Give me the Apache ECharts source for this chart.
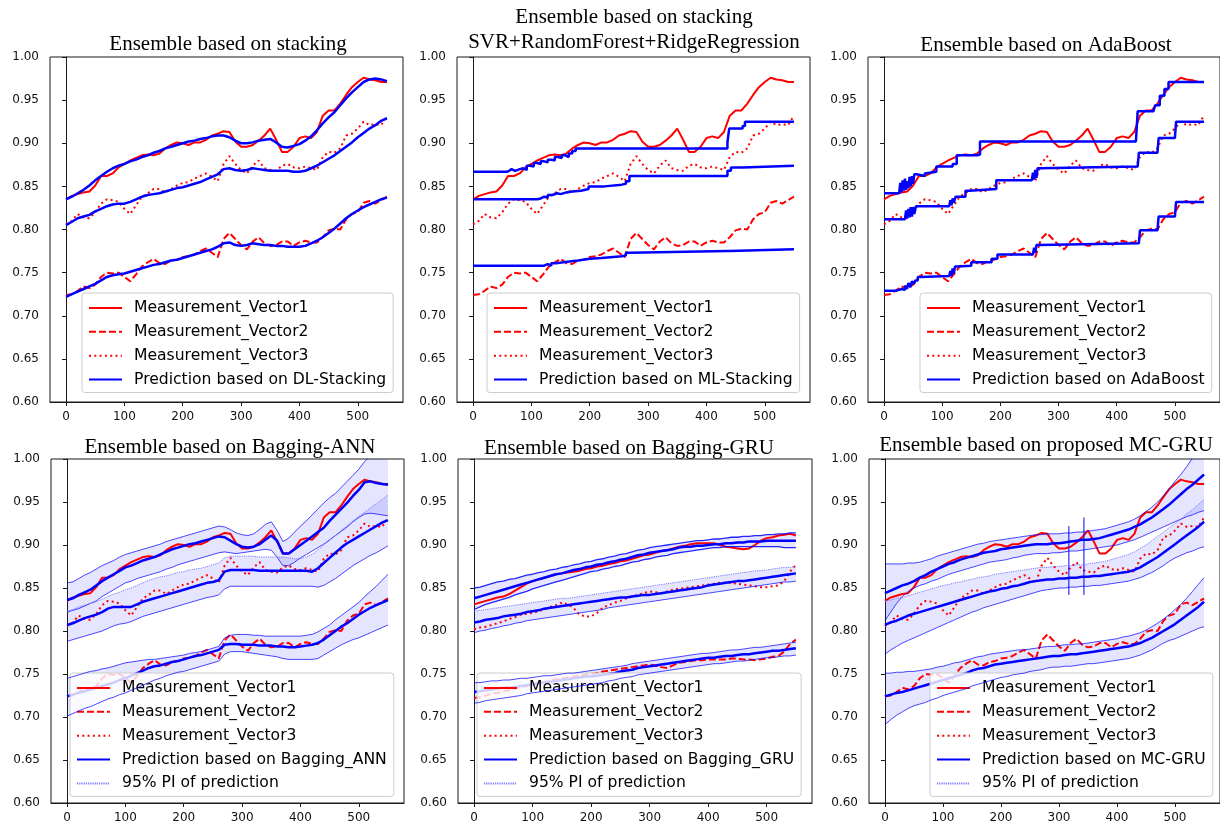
<!DOCTYPE html>
<html>
<head>
<meta charset="utf-8">
<script src="https://cdn.jsdelivr.net/npm/echarts@6/dist/echarts.min.js"></script>
<style>
  html, body { margin: 0; padding: 0; background: #ffffff; }
  #chart { width: 1220px; height: 828px; }
</style>
</head>
<body>
<div id="chart"></div>
<script>
// ---------------------------------------------------------------------------
// Sample positions (time index) shared by the sampled series
// ---------------------------------------------------------------------------
const xs = [0,10,20,30,40,50,60,70,80,90,
  100,110,120,130,140,150,160,170,180,190,
  200,210,220,230,240,250,260,270,280,290,
  300,310,320,330,340,350,360,370,380,390,
  400,410,420,430,440,450,460,470,480,490,
  500,510,520,530,540,550];
const xTicks = [0, 100, 200, 300, 400, 500];

// ---------------------------------------------------------------------------
// Measurements (panels 1-4 and 6)
// ---------------------------------------------------------------------------
const measV1 = [0.835,0.839,0.841,0.843,0.844,0.851,0.862,0.862,0.865,0.872,
  0.876,0.880,0.883,0.886,0.887,0.886,0.888,0.894,0.898,0.901,
  0.900,0.898,0.901,0.901,0.904,0.909,0.911,0.914,0.913,0.902,
  0.896,0.896,0.898,0.903,0.909,0.917,0.904,0.890,0.890,0.896,
  0.906,0.908,0.906,0.913,0.932,0.938,0.938,0.946,0.956,0.965,
  0.971,0.976,0.974,0.973,0.971,0.971];
const measV2 = [0.724,0.725,0.729,0.734,0.732,0.736,0.745,0.750,0.749,0.750,
  0.745,0.740,0.748,0.757,0.762,0.766,0.761,0.760,0.764,0.765,
  0.768,0.769,0.771,0.775,0.778,0.773,0.768,0.789,0.796,0.789,
  0.782,0.777,0.786,0.791,0.784,0.781,0.782,0.786,0.786,0.781,
  0.785,0.787,0.785,0.785,0.791,0.799,0.801,0.800,0.812,0.818,
  0.820,0.831,0.833,0.830,0.834,0.838];
const measV3 = [0.806,0.810,0.818,0.814,0.813,0.820,0.830,0.835,0.834,0.832,
  0.824,0.818,0.828,0.838,0.842,0.847,0.847,0.843,0.847,0.851,
  0.854,0.855,0.859,0.862,0.865,0.861,0.856,0.876,0.885,0.876,
  0.869,0.865,0.874,0.880,0.871,0.869,0.868,0.874,0.876,0.872,
  0.871,0.873,0.871,0.869,0.884,0.890,0.889,0.894,0.909,0.911,
  0.917,0.925,0.921,0.922,0.921,0.932];

// ---------------------------------------------------------------------------
// Panel 1: DL stacking predictions
// ---------------------------------------------------------------------------
const dlV1 = [0.835,0.838,0.842,0.846,0.851,0.857,0.862,0.867,0.871,0.874,
  0.876,0.879,0.881,0.884,0.886,0.889,0.891,0.894,0.896,0.898,
  0.900,0.902,0.903,0.905,0.906,0.908,0.909,0.909,0.907,0.903,
  0.900,0.900,0.901,0.903,0.904,0.905,0.901,0.896,0.895,0.897,
  0.899,0.903,0.908,0.915,0.923,0.930,0.936,0.944,0.952,0.959,
  0.965,0.971,0.974,0.975,0.974,0.972];
const dlV2 = [0.722,0.725,0.728,0.731,0.734,0.737,0.741,0.745,0.747,0.748,
  0.749,0.751,0.753,0.755,0.757,0.759,0.760,0.762,0.764,0.765,
  0.767,0.769,0.771,0.773,0.775,0.777,0.780,0.784,0.785,0.782,
  0.781,0.782,0.784,0.783,0.782,0.782,0.781,0.781,0.780,0.780,
  0.780,0.781,0.784,0.787,0.791,0.796,0.801,0.807,0.813,0.818,
  0.822,0.826,0.829,0.832,0.835,0.837];
const dlV3 = [0.805,0.809,0.813,0.815,0.817,0.821,0.824,0.827,0.829,0.830,
  0.830,0.832,0.835,0.838,0.840,0.841,0.842,0.844,0.846,0.848,
  0.849,0.851,0.853,0.855,0.858,0.861,0.864,0.870,0.871,0.869,
  0.868,0.869,0.871,0.870,0.869,0.868,0.868,0.868,0.868,0.867,
  0.867,0.868,0.871,0.874,0.878,0.882,0.886,0.891,0.896,0.901,
  0.907,0.912,0.917,0.921,0.926,0.929];

// ---------------------------------------------------------------------------
// Panel 2: ML stacking predictions, [x, level] held until the next x
// ---------------------------------------------------------------------------
const mlV1 = [[0,0.867],[58,0.868],[62,0.870],[66,0.868],[72,0.870],[80,0.871],[86,0.869],
  [92,0.874],[98,0.873],[104,0.877],[110,0.876],[116,0.879],[122,0.878],[128,0.881],[134,0.880],
  [140,0.884],[146,0.883],[152,0.886],[158,0.884],[164,0.888],[170,0.891],[176,0.894],
  [432,0.894],[436,0.901],[439,0.917],[462,0.920],[466,0.925],[550,0.925]];
const mlV2 = [[0,0.758],[118,0.758],[122,0.760],[128,0.758],[134,0.761],[142,0.762],[155,0.763],
  [165,0.764],[180,0.766],[200,0.767],[220,0.769],[255,0.770],[262,0.773],[270,0.775],
  [436,0.775],[440,0.777],[550,0.777]];
const mlV3 = [[0,0.835],[110,0.836],[116,0.838],[122,0.837],[128,0.840],[136,0.842],[144,0.841],
  [150,0.843],[160,0.844],[170,0.845],[185,0.847],[198,0.850],[225,0.852],[255,0.853],
  [262,0.856],[268,0.862],[432,0.862],[436,0.868],[442,0.872],[462,0.874],[550,0.874]];

// ---------------------------------------------------------------------------
// Panel 3: AdaBoost predictions, [x, level] held until the next x
// ---------------------------------------------------------------------------
const adaV1 = [[0,0.842],[26,0.842],[28,0.854],[30,0.843],[32,0.857],[34,0.845],[36,0.859],
  [38,0.846],[40,0.856],[42,0.848],[44,0.861],[46,0.850],[48,0.862],[50,0.853],[52,0.864],
  [56,0.862],[70,0.865],[72,0.867],[90,0.873],[118,0.876],[125,0.886],[160,0.887],[165,0.902],
  [433,0.902],[436,0.937],[463,0.937],[466,0.944],[474,0.955],[482,0.963],[489,0.971],[550,0.971]];
const adaV2 = [[0,0.729],[20,0.730],[26,0.731],[30,0.733],[33,0.730],[36,0.735],[39,0.731],
  [42,0.738],[45,0.733],[48,0.740],[51,0.737],[54,0.741],[58,0.745],[62,0.746],[112,0.746],
  [114,0.752],[116,0.746],[118,0.755],[120,0.749],[122,0.757],[126,0.758],[150,0.762],
  [185,0.766],[195,0.771],[256,0.771],[258,0.779],[260,0.773],[262,0.782],[266,0.784],
  [438,0.784],[440,0.799],[470,0.799],[472,0.815],[500,0.815],[502,0.832],[550,0.832]];
const adaV3 = [[0,0.812],[36,0.812],[38,0.822],[40,0.813],[42,0.824],[44,0.814],[46,0.826],
  [48,0.815],[50,0.826],[52,0.818],[55,0.827],[112,0.827],[114,0.834],[116,0.828],[118,0.836],
  [120,0.831],[123,0.838],[140,0.845],[147,0.847],[193,0.857],[254,0.857],[256,0.866],
  [258,0.858],[260,0.869],[262,0.860],[264,0.871],[268,0.873],[436,0.873],[438,0.889],
  [470,0.889],[472,0.906],[500,0.906],[502,0.925],[550,0.925]];

// ---------------------------------------------------------------------------
// Panel 4: Bagging-ANN predictions and 95% PI bounds
// ---------------------------------------------------------------------------
const annV1 = [0.836,0.838,0.842,0.845,0.848,0.853,0.858,0.862,0.866,0.870,
  0.874,0.876,0.879,0.882,0.884,0.886,0.889,0.892,0.895,0.897,
  0.899,0.901,0.902,0.904,0.906,0.908,0.910,0.909,0.905,0.901,
  0.898,0.897,0.898,0.901,0.906,0.911,0.905,0.890,0.890,0.895,
  0.900,0.905,0.910,0.915,0.920,0.928,0.935,0.942,0.949,0.957,
  0.964,0.973,0.974,0.972,0.971,0.970];
const annV1Hi = [0.856,0.857,0.861,0.865,0.868,0.872,0.876,0.879,0.882,0.886,
  0.889,0.891,0.893,0.895,0.897,0.899,0.901,0.904,0.906,0.908,
  0.910,0.912,0.914,0.916,0.918,0.920,0.922,0.921,0.918,0.914,
  0.912,0.911,0.913,0.918,0.924,0.927,0.917,0.904,0.908,0.915,
  0.922,0.928,0.935,0.942,0.949,0.955,0.960,0.967,0.974,0.981,
  0.988,0.997,1.004,1.008,1.012,1.015];
const annV1Lo = [0.822,0.824,0.826,0.829,0.832,0.835,0.840,0.844,0.848,0.852,
  0.856,0.858,0.861,0.863,0.865,0.867,0.869,0.872,0.874,0.877,
  0.879,0.881,0.883,0.885,0.887,0.889,0.891,0.892,0.891,0.890,
  0.891,0.892,0.893,0.894,0.895,0.894,0.886,0.876,0.876,0.880,
  0.885,0.889,0.893,0.897,0.901,0.906,0.911,0.916,0.921,0.927,
  0.932,0.936,0.937,0.936,0.935,0.934];
const annV2 = [0.724,0.726,0.728,0.730,0.732,0.734,0.736,0.738,0.740,0.743,
  0.745,0.748,0.751,0.754,0.757,0.759,0.760,0.762,0.764,0.765,
  0.767,0.769,0.771,0.772,0.774,0.776,0.778,0.784,0.785,0.785,
  0.784,0.784,0.784,0.783,0.783,0.783,0.782,0.782,0.781,0.781,
  0.782,0.783,0.784,0.786,0.790,0.795,0.800,0.805,0.809,0.814,
  0.819,0.823,0.827,0.830,0.833,0.836];
const annV2Hi = [0.745,0.747,0.749,0.751,0.753,0.754,0.756,0.757,0.759,0.761,
  0.763,0.764,0.765,0.766,0.767,0.767,0.768,0.769,0.770,0.771,
  0.772,0.774,0.775,0.776,0.778,0.780,0.782,0.792,0.795,0.796,
  0.796,0.796,0.795,0.795,0.794,0.794,0.794,0.794,0.794,0.794,
  0.794,0.795,0.796,0.799,0.803,0.807,0.813,0.818,0.823,0.828,
  0.833,0.840,0.846,0.852,0.859,0.866];
const annV2Lo = [0.701,0.704,0.707,0.710,0.712,0.715,0.718,0.721,0.723,0.726,
  0.728,0.731,0.734,0.737,0.740,0.743,0.745,0.748,0.750,0.752,
  0.753,0.755,0.757,0.759,0.761,0.763,0.765,0.773,0.776,0.776,
  0.776,0.775,0.774,0.773,0.772,0.771,0.770,0.768,0.767,0.767,
  0.767,0.767,0.767,0.768,0.772,0.776,0.780,0.784,0.787,0.790,
  0.792,0.795,0.798,0.801,0.804,0.807];
const annV3 = [0.807,0.809,0.812,0.815,0.817,0.819,0.822,0.826,0.828,0.828,
  0.828,0.828,0.831,0.834,0.836,0.838,0.840,0.842,0.844,0.846,
  0.848,0.850,0.852,0.854,0.856,0.857,0.859,0.869,0.871,0.871,
  0.871,0.871,0.871,0.870,0.870,0.870,0.870,0.870,0.870,0.870,
  0.870,0.870,0.869,0.873,0.879,0.885,0.891,0.897,0.902,0.906,
  0.910,0.914,0.918,0.922,0.926,0.929];
const annV3Hi = [0.823,0.825,0.828,0.830,0.832,0.834,0.837,0.840,0.843,0.845,
  0.848,0.850,0.853,0.856,0.859,0.861,0.863,0.864,0.866,0.868,
  0.869,0.871,0.872,0.873,0.875,0.877,0.879,0.885,0.887,0.887,
  0.887,0.887,0.887,0.886,0.886,0.886,0.886,0.886,0.885,0.884,
  0.884,0.886,0.889,0.894,0.900,0.905,0.911,0.917,0.922,0.928,
  0.933,0.938,0.943,0.948,0.953,0.958];
const annV3Lo = [0.788,0.790,0.792,0.794,0.796,0.798,0.800,0.803,0.806,0.808,
  0.809,0.811,0.814,0.817,0.819,0.821,0.823,0.825,0.827,0.829,
  0.831,0.833,0.835,0.837,0.839,0.840,0.842,0.849,0.852,0.852,
  0.852,0.852,0.852,0.852,0.852,0.852,0.852,0.852,0.852,0.852,
  0.852,0.852,0.852,0.851,0.853,0.857,0.861,0.866,0.871,0.876,
  0.880,0.884,0.888,0.891,0.895,0.899];

// ---------------------------------------------------------------------------
// Panel 5: measurements, Bagging-GRU predictions and 95% PI bounds
// ---------------------------------------------------------------------------
const gruMeasV1 = [0.831,0.833,0.835,0.837,0.839,0.840,0.843,0.847,0.851,0.855,
  0.858,0.860,0.862,0.864,0.866,0.867,0.868,0.869,0.870,0.872,
  0.873,0.875,0.876,0.878,0.879,0.881,0.882,0.884,0.886,0.888,
  0.889,0.891,0.893,0.894,0.896,0.898,0.899,0.901,0.902,0.902,
  0.902,0.902,0.900,0.898,0.897,0.896,0.895,0.896,0.900,0.905,
  0.908,0.909,0.911,0.912,0.913,0.911];
const gruMeasV2 = [0.722,0.723,0.725,0.727,0.728,0.730,0.731,0.733,0.735,0.736,
  0.738,0.739,0.741,0.742,0.744,0.745,0.746,0.747,0.748,0.749,
  0.750,0.751,0.753,0.754,0.755,0.756,0.757,0.758,0.759,0.760,
  0.761,0.760,0.758,0.757,0.760,0.763,0.764,0.765,0.766,0.766,
  0.767,0.767,0.767,0.767,0.768,0.768,0.767,0.767,0.766,0.767,
  0.768,0.770,0.771,0.776,0.785,0.790];
const gruMeasV3 = [0.802,0.804,0.805,0.807,0.809,0.811,0.814,0.816,0.819,0.820,
  0.821,0.823,0.825,0.828,0.830,0.833,0.831,0.827,0.819,0.817,
  0.817,0.821,0.827,0.830,0.833,0.835,0.838,0.840,0.842,0.844,
  0.846,0.845,0.844,0.846,0.848,0.849,0.850,0.851,0.852,0.853,
  0.854,0.855,0.856,0.856,0.856,0.855,0.854,0.853,0.852,0.851,
  0.851,0.852,0.853,0.858,0.869,0.877];
const gruV1 = [0.838,0.840,0.842,0.844,0.846,0.848,0.850,0.852,0.854,0.856,
  0.858,0.860,0.862,0.864,0.866,0.867,0.869,0.871,0.872,0.874,
  0.875,0.877,0.878,0.880,0.881,0.883,0.884,0.886,0.888,0.889,
  0.891,0.892,0.893,0.894,0.895,0.897,0.898,0.898,0.899,0.899,
  0.900,0.901,0.901,0.902,0.902,0.903,0.903,0.904,0.904,0.904,
  0.905,0.905,0.905,0.905,0.905,0.905];
const gruV1Hi = [0.850,0.851,0.853,0.855,0.857,0.858,0.860,0.861,0.863,0.865,
  0.866,0.868,0.869,0.871,0.872,0.874,0.875,0.877,0.878,0.880,
  0.881,0.883,0.884,0.886,0.887,0.889,0.890,0.892,0.894,0.895,
  0.897,0.898,0.899,0.900,0.901,0.902,0.903,0.904,0.905,0.905,
  0.906,0.907,0.907,0.908,0.909,0.909,0.910,0.910,0.911,0.911,
  0.912,0.912,0.913,0.913,0.914,0.914];
const gruV1Lo = [0.825,0.828,0.831,0.833,0.835,0.837,0.839,0.842,0.844,0.846,
  0.849,0.851,0.853,0.855,0.857,0.859,0.861,0.863,0.865,0.867,
  0.869,0.870,0.872,0.873,0.875,0.876,0.878,0.880,0.881,0.883,
  0.884,0.886,0.887,0.888,0.890,0.891,0.892,0.893,0.894,0.895,
  0.896,0.897,0.897,0.898,0.898,0.898,0.898,0.898,0.898,0.898,
  0.898,0.898,0.898,0.897,0.897,0.897];
const gruV2 = [0.729,0.730,0.731,0.732,0.733,0.734,0.734,0.735,0.736,0.737,
  0.738,0.739,0.740,0.741,0.742,0.743,0.744,0.745,0.746,0.747,
  0.747,0.748,0.749,0.750,0.751,0.753,0.754,0.755,0.757,0.758,
  0.759,0.760,0.761,0.762,0.763,0.764,0.765,0.766,0.767,0.768,
  0.769,0.769,0.770,0.771,0.771,0.772,0.773,0.773,0.774,0.775,
  0.776,0.777,0.777,0.778,0.779,0.780];
const gruV2Hi = [0.740,0.740,0.741,0.742,0.742,0.743,0.743,0.744,0.745,0.745,
  0.746,0.747,0.748,0.748,0.749,0.750,0.751,0.751,0.752,0.753,
  0.754,0.755,0.756,0.757,0.758,0.759,0.760,0.762,0.763,0.764,
  0.765,0.766,0.767,0.768,0.769,0.770,0.771,0.772,0.773,0.774,
  0.774,0.775,0.776,0.777,0.778,0.778,0.779,0.780,0.781,0.781,
  0.782,0.783,0.784,0.785,0.786,0.787];
const gruV2Lo = [0.716,0.717,0.719,0.720,0.721,0.722,0.723,0.724,0.725,0.727,
  0.728,0.729,0.730,0.731,0.732,0.733,0.734,0.735,0.736,0.737,
  0.738,0.739,0.740,0.742,0.743,0.745,0.746,0.747,0.749,0.750,
  0.751,0.752,0.753,0.754,0.755,0.756,0.757,0.758,0.759,0.760,
  0.761,0.762,0.762,0.763,0.764,0.765,0.765,0.766,0.767,0.768,
  0.769,0.769,0.770,0.771,0.771,0.772];
const gruV3 = [0.810,0.811,0.813,0.814,0.815,0.817,0.818,0.819,0.820,0.822,
  0.823,0.824,0.826,0.827,0.828,0.829,0.830,0.831,0.832,0.833,
  0.834,0.835,0.836,0.837,0.838,0.839,0.839,0.840,0.841,0.842,
  0.842,0.843,0.844,0.845,0.846,0.847,0.848,0.849,0.850,0.851,
  0.853,0.854,0.855,0.856,0.857,0.858,0.858,0.859,0.860,0.861,
  0.862,0.863,0.864,0.865,0.866,0.867];
const gruV3Hi = [0.823,0.824,0.825,0.826,0.827,0.828,0.829,0.830,0.831,0.832,
  0.833,0.834,0.835,0.836,0.837,0.838,0.838,0.839,0.840,0.841,
  0.842,0.843,0.844,0.845,0.846,0.847,0.848,0.849,0.850,0.851,
  0.852,0.853,0.854,0.855,0.856,0.857,0.858,0.859,0.860,0.861,
  0.862,0.863,0.864,0.865,0.866,0.867,0.868,0.869,0.870,0.870,
  0.871,0.872,0.873,0.874,0.874,0.875];
const gruV3Lo = [0.798,0.800,0.801,0.803,0.804,0.806,0.807,0.809,0.810,0.812,
  0.813,0.814,0.815,0.816,0.817,0.818,0.819,0.820,0.821,0.822,
  0.823,0.824,0.825,0.827,0.828,0.829,0.830,0.831,0.832,0.833,
  0.834,0.835,0.836,0.837,0.838,0.839,0.840,0.841,0.842,0.843,
  0.844,0.845,0.846,0.847,0.848,0.849,0.850,0.851,0.852,0.853,
  0.854,0.855,0.856,0.857,0.857,0.858];

// ---------------------------------------------------------------------------
// Panel 6: MC-GRU predictions and 95% PI bounds
// ---------------------------------------------------------------------------
const mcV1 = [0.844,0.847,0.850,0.853,0.855,0.858,0.862,0.865,0.869,0.872,
  0.875,0.878,0.880,0.883,0.885,0.887,0.889,0.891,0.892,0.893,
  0.895,0.896,0.897,0.898,0.899,0.900,0.901,0.901,0.901,0.902,
  0.902,0.903,0.904,0.905,0.906,0.906,0.907,0.908,0.910,0.912,
  0.914,0.916,0.918,0.921,0.924,0.928,0.932,0.937,0.942,0.947,
  0.953,0.959,0.965,0.970,0.976,0.982];
const mcV1Hi = [0.878,0.878,0.878,0.878,0.879,0.879,0.880,0.882,0.884,0.887,
  0.889,0.891,0.893,0.895,0.897,0.899,0.901,0.902,0.904,0.905,
  0.906,0.907,0.908,0.909,0.910,0.911,0.912,0.912,0.913,0.913,
  0.913,0.914,0.914,0.915,0.915,0.916,0.917,0.918,0.919,0.921,
  0.923,0.925,0.927,0.930,0.934,0.939,0.944,0.950,0.957,0.965,
  0.974,0.982,0.991,1.001,1.010,1.020];
const mcV1Lo = [0.812,0.822,0.832,0.840,0.846,0.850,0.853,0.855,0.858,0.860,
  0.863,0.866,0.868,0.870,0.872,0.874,0.876,0.878,0.880,0.881,
  0.882,0.883,0.885,0.886,0.888,0.889,0.890,0.890,0.890,0.891,
  0.891,0.892,0.893,0.893,0.894,0.895,0.896,0.897,0.898,0.899,
  0.900,0.902,0.904,0.906,0.909,0.912,0.915,0.918,0.921,0.924,
  0.927,0.930,0.933,0.935,0.938,0.940];
const mcV2 = [0.724,0.726,0.728,0.729,0.731,0.733,0.735,0.737,0.739,0.741,
  0.743,0.745,0.747,0.749,0.751,0.754,0.756,0.757,0.759,0.761,
  0.762,0.763,0.764,0.765,0.766,0.767,0.768,0.769,0.770,0.771,
  0.771,0.772,0.773,0.773,0.774,0.775,0.776,0.777,0.778,0.779,
  0.780,0.781,0.782,0.784,0.786,0.789,0.792,0.796,0.800,0.804,
  0.808,0.813,0.818,0.823,0.828,0.834];
const mcV2Hi = [0.751,0.751,0.752,0.752,0.753,0.753,0.754,0.755,0.756,0.758,
  0.759,0.761,0.763,0.764,0.766,0.768,0.770,0.771,0.773,0.774,
  0.775,0.776,0.777,0.778,0.778,0.779,0.780,0.781,0.782,0.782,
  0.783,0.784,0.784,0.785,0.785,0.786,0.787,0.788,0.789,0.790,
  0.791,0.793,0.794,0.796,0.798,0.801,0.805,0.809,0.814,0.819,
  0.825,0.831,0.838,0.846,0.854,0.862];
const mcV2Lo = [0.691,0.697,0.702,0.706,0.710,0.713,0.715,0.717,0.720,0.722,
  0.725,0.727,0.729,0.731,0.733,0.736,0.738,0.740,0.742,0.744,
  0.746,0.747,0.749,0.750,0.751,0.753,0.754,0.755,0.757,0.758,
  0.758,0.759,0.759,0.760,0.761,0.762,0.762,0.763,0.764,0.765,
  0.766,0.767,0.768,0.770,0.772,0.775,0.778,0.782,0.786,0.789,
  0.791,0.794,0.797,0.800,0.803,0.805];
const mcV3 = [0.807,0.810,0.812,0.815,0.818,0.820,0.822,0.824,0.826,0.828,
  0.830,0.832,0.834,0.836,0.838,0.840,0.842,0.844,0.846,0.847,
  0.849,0.850,0.852,0.853,0.855,0.857,0.858,0.859,0.860,0.860,
  0.861,0.861,0.862,0.862,0.863,0.863,0.864,0.864,0.865,0.866,
  0.867,0.868,0.869,0.871,0.874,0.878,0.882,0.886,0.891,0.896,
  0.901,0.906,0.911,0.916,0.921,0.927];
const mcV3Hi = [0.835,0.836,0.838,0.839,0.841,0.843,0.845,0.847,0.849,0.851,
  0.853,0.854,0.856,0.857,0.859,0.860,0.862,0.863,0.864,0.866,
  0.867,0.868,0.869,0.870,0.871,0.872,0.873,0.874,0.874,0.875,
  0.875,0.876,0.876,0.877,0.877,0.878,0.879,0.880,0.881,0.883,
  0.885,0.887,0.889,0.892,0.896,0.900,0.905,0.910,0.915,0.920,
  0.925,0.930,0.936,0.941,0.947,0.953];
const mcV3Lo = [0.773,0.778,0.782,0.786,0.789,0.792,0.795,0.798,0.801,0.804,
  0.807,0.810,0.813,0.816,0.819,0.822,0.824,0.827,0.829,0.831,
  0.833,0.835,0.837,0.839,0.841,0.843,0.845,0.847,0.848,0.849,
  0.850,0.850,0.851,0.851,0.852,0.852,0.853,0.853,0.854,0.855,
  0.856,0.857,0.858,0.860,0.862,0.865,0.868,0.872,0.876,0.881,
  0.885,0.888,0.891,0.893,0.896,0.898];
// outlier spikes: [x, low, high]
const mcSpikes = [[317, 0.842, 0.922], [343, 0.842, 0.932]];

// ---------------------------------------------------------------------------
// Labels
// ---------------------------------------------------------------------------
const measNames = ['Measurement_Vector1', 'Measurement_Vector2', 'Measurement_Vector3'];
const predNames = ['Prediction based on DL-Stacking', 'Prediction based on ML-Stacking',
  'Prediction based on AdaBoost', 'Prediction based on Bagging_ANN',
  'Prediction based on Bagging_GRU', 'Prediction based on MC-GRU'];
const piName = '95% PI of prediction';
const titleTexts = ['Ensemble based on stacking',
  'Ensemble based on stacking\nSVR+RandomForest+RidgeRegression',
  'Ensemble based on AdaBoost', 'Ensemble based on Bagging-ANN',
  'Ensemble based on Bagging-GRU', 'Ensemble based on proposed MC-GRU'];

// ---------------------------------------------------------------------------
// Panel contents
// ---------------------------------------------------------------------------
const panelData = [
  { meas: [measV1, measV2, measV3], pred: [dlV1, dlV2, dlV3] },
  { meas: [measV1, measV2, measV3], steps: [mlV1, mlV2, mlV3] },
  { meas: [measV1, measV2, measV3], steps: [adaV1, adaV2, adaV3] },
  { meas: [measV1, measV2, measV3], pred: [annV1, annV2, annV3],
    lo: [annV1Lo, annV2Lo, annV3Lo], hi: [annV1Hi, annV2Hi, annV3Hi] },
  { meas: [gruMeasV1, gruMeasV2, gruMeasV3], pred: [gruV1, gruV2, gruV3],
    lo: [gruV1Lo, gruV2Lo, gruV3Lo], hi: [gruV1Hi, gruV2Hi, gruV3Hi] },
  { meas: [measV1, measV2, measV3], pred: [mcV1, mcV2, mcV3],
    lo: [mcV1Lo, mcV2Lo, mcV3Lo], hi: [mcV1Hi, mcV2Hi, mcV3Hi], spikes: mcSpikes }
];

// ---------------------------------------------------------------------------
// Layout (pixels) and styles
// ---------------------------------------------------------------------------
const layout = [
  { left: 50,  top: 57,  width: 353, height: 345, titleX: 228,  titleTop: 34,  legLeft: 82,  legTop: 293 },
  { left: 457, top: 57,  width: 353, height: 345, titleX: 634,  titleTop: 5,   legLeft: 487, legTop: 293 },
  { left: 868, top: 57,  width: 352, height: 345, titleX: 1046, titleTop: 35,  legLeft: 920, legTop: 293 },
  { left: 51,  top: 459, width: 353, height: 344, titleX: 230,  titleTop: 437, legLeft: 70,  legTop: 673 },
  { left: 458, top: 459, width: 354, height: 344, titleX: 629,  titleTop: 438, legLeft: 477, legTop: 673 },
  { left: 869, top: 459, width: 352, height: 344, titleX: 1046, titleTop: 435, legLeft: 930, legTop: 673 }
];
const RED = '#ff0000';
const BLUE = '#0000ff';
const measStyles = [
  { color: RED, width: 2, type: 'solid' },
  { color: RED, width: 2, type: [7, 3] },
  { color: RED, width: 2, type: [2, 3.3] }
];
const predStyle = { color: BLUE, width: 2.5, type: 'solid' };
const boundStyle = { color: 'rgba(0,0,255,0.8)', width: 0.9, type: 'solid' };
const boundStyleWide = { color: 'rgba(0,0,255,0.85)', width: 1.3, type: 'solid' };
const piStyle = { color: 'rgba(110,110,255,0.9)', width: 1, type: [1.2, 1] };
const bandFill = 'rgba(0,0,255,0.1)';
const TICK_FONT = 'DejaVu Sans';

function sampled(ys) { return xs.map((x, i) => [x, ys[i]]); }

function lineSeries(gi, name, data, style, z, step) {
  return {
    type: 'line', name: name, xAxisIndex: gi, yAxisIndex: gi,
    data: data, symbol: 'none', step: step || false, z: z,
    silent: true, animation: false, clip: true,
    lineStyle: { color: style.color, width: style.width, type: style.type, cap: 'butt' },
    itemStyle: { color: style.color },
    emphasis: { disabled: true }
  };
}

function bandSeries(gi, lo, hi) {
  return {
    type: 'custom', name: 'band', xAxisIndex: gi, yAxisIndex: gi,
    coordinateSystem: 'cartesian2d', silent: true, clip: true, z: 1,
    data: [[xs[0], lo[0]]],
    renderItem: function (params, api) {
      const pts = [];
      for (let i = 0; i < xs.length; i++) pts.push(api.coord([xs[i], hi[i]]));
      for (let i = xs.length - 1; i >= 0; i--) pts.push(api.coord([xs[i], lo[i]]));
      return { type: 'polygon', shape: { points: pts }, style: { fill: bandFill, stroke: null } };
    }
  };
}

function spikeSeries(gi, rows) {
  return {
    type: 'custom', name: 'spike', xAxisIndex: gi, yAxisIndex: gi,
    coordinateSystem: 'cartesian2d', silent: true, clip: true, z: 4,
    data: rows, encode: { x: 0, y: [1, 2] },
    renderItem: function (params, api) {
      const a = api.coord([api.value(0), api.value(1)]);
      const b = api.coord([api.value(0), api.value(2)]);
      return { type: 'line', shape: { x1: a[0], y1: a[1], x2: b[0], y2: b[1] },
        style: { stroke: BLUE, lineWidth: 1 } };
    }
  };
}

const grids = [], xAxes = [], yAxes = [], titles = [], legends = [], series = [];

layout.forEach(function (L, gi) {
  const P = panelData[gi];
  grids.push({ left: L.left, top: L.top, width: L.width, height: L.height,
    show: true, borderColor: '#1a1a1a', borderWidth: 1, backgroundColor: 'transparent' });
  xAxes.push({
    type: 'value', gridIndex: gi, min: -27.5, max: 577.5,
    axisLine: { show: true, onZero: false, lineStyle: { color: '#1a1a1a', width: 1 } },
    axisTick: { show: true, customValues: xTicks, length: 4, lineStyle: { color: '#1a1a1a' } },
    axisLabel: { customValues: xTicks, fontSize: 12, fontFamily: TICK_FONT, color: '#111', margin: 9 },
    splitLine: { show: false }
  });
  yAxes.push({
    type: 'value', gridIndex: gi, min: 0.6, max: 1.0, interval: 0.05,
    axisLine: { show: true, lineStyle: { color: '#1a1a1a', width: 1 } },
    axisTick: { show: true, length: 4, lineStyle: { color: '#1a1a1a' } },
    axisLabel: { fontSize: 12, fontFamily: TICK_FONT, color: '#111', margin: 11,
      formatter: function (v) { return v.toFixed(2); } },
    splitLine: { show: false }
  });
  titles.push({
    text: titleTexts[gi], left: L.titleX, top: L.titleTop, textAlign: 'center', padding: 0,
    textStyle: { fontFamily: 'Liberation Serif', fontWeight: 'normal', fontSize: 21,
      color: '#000', lineHeight: gi === 1 ? 25 : 21 }
  });

  const legendNames = measNames.concat([predNames[gi]]);
  if (P.lo) legendNames.push(piName);
  legends.push({
    data: legendNames, orient: 'vertical', left: L.legLeft, top: L.legTop,
    selectedMode: false, itemWidth: 33, itemHeight: 12, itemGap: 7.85,
    padding: [7, 7, 5, 6], backgroundColor: 'rgba(255,255,255,0.8)',
    borderColor: '#cccccc', borderWidth: 1, borderRadius: 3,
    itemStyle: { opacity: 0 },
    textStyle: { fontFamily: 'DejaVu Sans', fontSize: 15.6, color: '#000',
      lineHeight: 16, padding: [0, 0, 0, 7] }
  });

  // shaded prediction intervals
  if (P.lo) for (let k = 0; k < 3; k++) series.push(bandSeries(gi, P.lo[k], P.hi[k]));
  // measurements
  for (let k = 0; k < 3; k++) series.push(lineSeries(gi, measNames[k], sampled(P.meas[k]), measStyles[k], 2));
  // predictions
  for (let k = 0; k < 3; k++) {
    if (P.pred) series.push(lineSeries(gi, predNames[gi], sampled(P.pred[k]), predStyle, 3));
    else series.push(lineSeries(gi, predNames[gi], P.steps[k], predStyle, 3, 'end'));
  }
  // interval bounds (the bagging-GRU bounds of the first vector are drawn heavier)
  if (P.lo) {
    for (let k = 0; k < 3; k++) {
      const bs = (gi === 4 && k === 0) ? boundStyleWide : boundStyle;
      series.push(lineSeries(gi, 'lower bound', sampled(P.lo[k]), bs, 4));
      if (k === 2) series.push(lineSeries(gi, piName, sampled(P.hi[k]), piStyle, 4));
      else series.push(lineSeries(gi, 'upper bound', sampled(P.hi[k]), bs, 4));
    }
  }
  if (P.spikes) series.push(spikeSeries(gi, P.spikes));
});

const chart = echarts.init(document.getElementById('chart'), null, { renderer: 'canvas', width: 1220, height: 828 });
chart.setOption({
  animation: false,
  backgroundColor: '#ffffff',
  textStyle: { fontFamily: TICK_FONT },
  title: titles,
  legend: legends,
  grid: grids,
  xAxis: xAxes,
  yAxis: yAxes,
  series: series
});
</script>
</body>
</html>
